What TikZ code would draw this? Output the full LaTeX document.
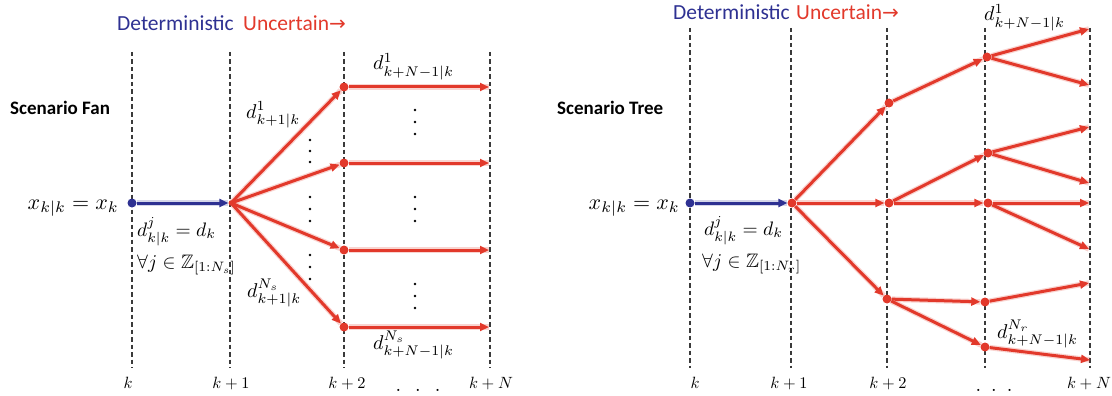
\documentclass[tikz,border=0pt]{standalone}
\usepackage{fontspec}
\usepackage{amssymb}
\usepackage{graphicx}
\usetikzlibrary{arrows.meta}
\newfontfamily\carlito{Carlito}
\newfontfamily\dejavu{DejaVu Sans}
\definecolor{myblue}{HTML}{2E3192}
\definecolor{myred}{HTML}{E2392B}
\definecolor{vgray}{HTML}{3A3A3A}
\newcommand\mysc[2]{\scalebox{#1}{$#2$}}
\begin{document}
\begin{tikzpicture}[x=1pt,y=-1pt,
  vline/.style={draw=vgray, line width=2pt, dash pattern=on 4.5pt off 3pt},
  redarr/.style={draw=myred, line width=3pt, -{Triangle[length=9pt,width=8pt]},
    preaction={draw=myred, opacity=0.22, line width=5.5pt, -}},
  bluearr/.style={draw=myblue, line width=3pt, -{Triangle[length=9pt,width=8pt]},
    preaction={draw=myblue, opacity=0.2, line width=5.5pt, -}},
  rdot/.style={circle, fill=myred, inner sep=0pt, minimum size=9pt},
  rsdot/.style={circle, fill=myred, inner sep=0pt, minimum size=5pt},
  bdot/.style={circle, fill=myblue, inner sep=0pt, minimum size=9pt},
  vdot/.style={circle, fill=black, inner sep=0pt, minimum size=2.6pt},
  ttl/.style={font=\carlito\fontsize{21.5}{21.5}\selectfont, inner sep=0pt},
  hdr/.style={font=\carlito\bfseries\fontsize{19}{19}\selectfont, inner sep=0pt},
  mlab/.style={font=\fontsize{10}{10}\selectfont, inner sep=0pt},
  tlab/.style={font=\fontsize{10}{10}\selectfont, inner sep=0pt, anchor=base}
]
\useasboundingbox (0,0) rectangle (1112,396);

% ================= LEFT: Scenario Fan =================
\foreach \n/\x in {a/132,b/230,c/344,d/490}{
  \coordinate (LT\n) at (\x,52);
  \coordinate (LB\n) at (\x,368);
  \draw[vline] (LT\n) -- (LB\n);
}
\node[ttl, anchor=base west, text=myblue] (ldet) at (117,31) {Deterministic};
\node[ttl, anchor=base west, text=myred] (lunc) at (243,31) {Uncertain{\dejavu\fontsize{20}{20}\selectfont →}};
\node[hdr, anchor=base west] (lfan) at (10,114) {Scenario Fan};
\node[mlab, anchor=base east] (lx) at (119,209) {\mysc{2.2}{x_{k|k}=x_k}};

\node[bdot] (L0) at (132,203) {};
\node[rsdot] (L1) at (231,203) {};
\node[rdot] (L2a) at (344,87) {};
\node[rdot] (L2b) at (344,163) {};
\node[rdot] (L2c) at (344,250) {};
\node[rdot] (L2d) at (344,327) {};
\coordinate (LEa) at (489,87);
\coordinate (LEb) at (489,163);
\coordinate (LEc) at (489,250);
\coordinate (LEd) at (489,327);

\draw[bluearr] (L0) -- (L1);
\foreach \s in {a,b,c,d}{
  \draw[redarr] (L1.center) -- (L2\s);
  \draw[redarr] (L2\s) -- (LE\s);
}

\node[mlab, anchor=base west] (ld1) at (373,70) {\mysc{2.0}{d^{1}_{k+N-1|k}}};
\node[mlab, anchor=base west] (ld2) at (246,118) {\mysc{2.0}{d^{1}_{k+1|k}}};
\node[mlab, anchor=base west] (ld3) at (247,297) {\mysc{2.0}{d^{N_s}_{k+1|k}}};
\node[mlab, anchor=base west] (ld4) at (373,349) {\mysc{2.0}{d^{N_s}_{k+N-1|k}}};
\node[mlab, anchor=base west] (ld5) at (137,236) {\mysc{1.95}{d^{j}_{k|k}=d_k}};
\node[mlab, anchor=base west] (ld6) at (137,268) {\mysc{1.95}{\forall j\in\mathbb{Z}_{[1:N_s]}}};

\foreach \y in {140,151,162, 197,209,221, 255,267,279}{
  \node[vdot] at (310,\y) {};
}
\foreach \y in {110,122,134, 197,209,221, 284,296,308}{
  \node[vdot] at (415,\y) {};
}

\node[tlab] (lk0) at (128,388) {\mysc{1.63}{k}};
\node[tlab] (lk1) at (231,388) {\mysc{1.63}{k+1}};
\node[tlab] (lk2) at (347,388) {\mysc{1.63}{k+2}};
\node[tlab] (lkN) at (491,388) {\mysc{1.63}{k+N}};
\node[tlab] (ldots) at (418,391) {\mysc{2}{.\hspace{7pt}.\hspace{7pt}.}};

% ================= RIGHT: Scenario Tree =================
\foreach \n/\x in {a/690,b/791,c/887,d/985,e/1090}{
  \coordinate (RT\n) at (\x,28);
  \coordinate (RB\n) at (\x,368);
  \draw[vline] (RT\n) -- (RB\n);
}
\node[ttl, anchor=base west, text=myblue] (rdet) at (673,20) {Deterministic};
\node[ttl, anchor=base west, text=myred] (runc) at (796,20) {Uncertain{\dejavu\fontsize{20}{20}\selectfont →}};
\node[hdr, anchor=base west] (rtree) at (557,114) {Scenario Tree};
\node[mlab, anchor=base east] (rx) at (680,209) {\mysc{2.2}{x_{k|k}=x_k}};

\node[bdot] (R0) at (690,203) {};
\node[rdot] (R1) at (792,203) {};
\node[rdot] (RA) at (889,103) {};
\node[rdot] (RB) at (889,203) {};
\node[rdot] (RC) at (887,299) {};
\node[rdot] (RA1) at (987,57) {};
\node[rdot] (RB1) at (988,153) {};
\node[rdot] (RB2) at (988,203) {};
\node[rdot] (RC1) at (985,302) {};
\node[rdot] (RC2) at (985,347) {};
\coordinate (EA1a) at (1089,29);
\coordinate (EA1b) at (1089,85);
\coordinate (EB1a) at (1089,127);
\coordinate (EB1b) at (1089,183);
\coordinate (EB2a) at (1089,203);
\coordinate (EB2b) at (1089,249);
\coordinate (EC1) at (1089,283);
\coordinate (EC2) at (1090,360);

\draw[bluearr] (R0) -- (R1);
\draw[redarr] (R1) -- (RA);
\draw[redarr] (R1) -- (RB);
\draw[redarr] (R1) -- (RC);
\draw[redarr] (RA) -- (RA1);
\draw[redarr] (RB) -- (RB1);
\draw[redarr] (RB) -- (RB2);
\draw[redarr] (RC) -- (RC1);
\draw[redarr] (RC) -- (RC2);
\draw[redarr] (RA1) -- (EA1a);
\draw[redarr] (RA1) -- (EA1b);
\draw[redarr] (RB1) -- (EB1a);
\draw[redarr] (RB1) -- (EB1b);
\draw[redarr] (RB2) -- (EB2a);
\draw[redarr] (RB2) -- (EB2b);
\draw[redarr] (RC1) -- (EC1);
\draw[redarr] (RC2) -- (EC2);

\node[mlab, anchor=base west] (rd1) at (984,21) {\mysc{2.0}{d^{1}_{k+N-1|k}}};
\node[mlab, anchor=base west] (rd2) at (997,338) {\mysc{2.0}{d^{N_r}_{k+N-1|k}}};
\node[mlab, anchor=base west] (rd5) at (704,235) {\mysc{1.95}{d^{j}_{k|k}=d_k}};
\node[mlab, anchor=base west] (rd6) at (702,267) {\mysc{1.95}{\forall j\in\mathbb{Z}_{[1:N_r]}}};

\node[tlab] (rk0) at (695,388) {\mysc{1.63}{k}};
\node[tlab] (rk1) at (789,388) {\mysc{1.63}{k+1}};
\node[tlab] (rk2) at (888,388) {\mysc{1.63}{k+2}};
\node[tlab] (rkN) at (1089,388) {\mysc{1.63}{k+N}};
\node[tlab] (rdots) at (994,391) {\mysc{2}{.\hspace{5pt}.\hspace{5pt}.}};
\end{tikzpicture}
\end{document}
